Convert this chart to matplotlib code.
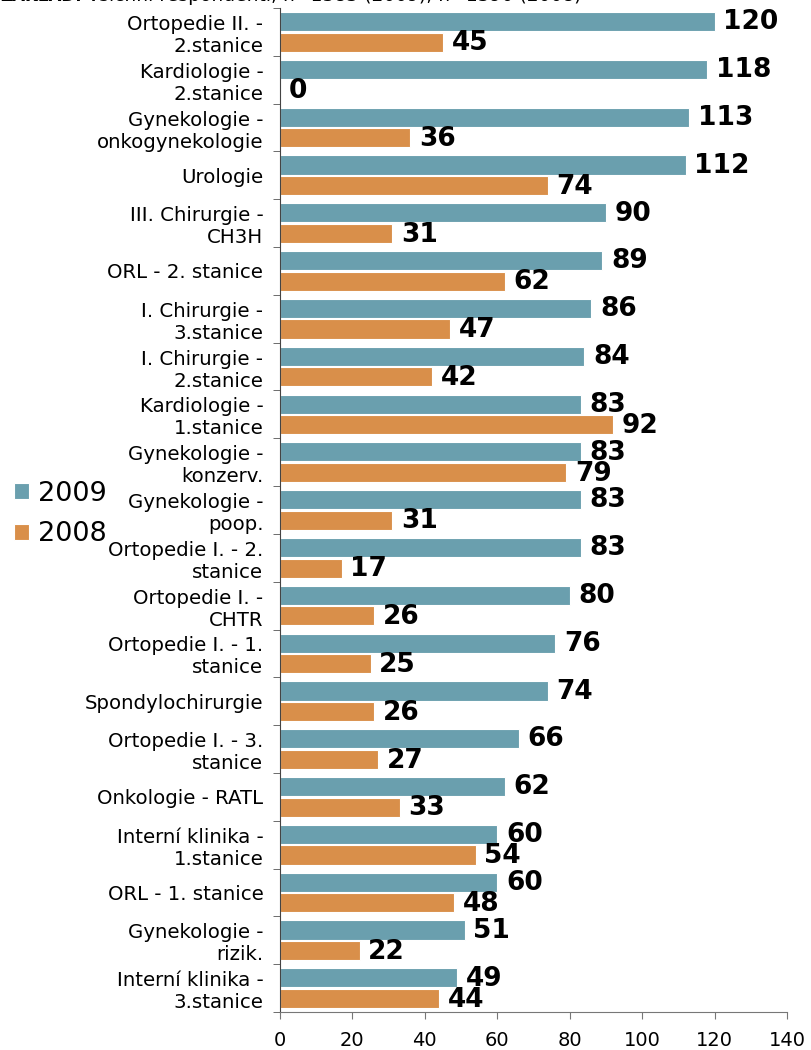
import matplotlib.pyplot as plt
import numpy as np

oddeleni = [
    "Ortopedie II. -\n2.stanice", "Kardiologie -\n2.stanice", "Gynekologie -\nonkogynekologie",
    "Urologie", "III. Chirurgie -\nCH3H", "ORL - 2. stanice", "I. Chirurgie -\n3.stanice",
    "I. Chirurgie -\n2.stanice", "Kardiologie -\n1.stanice", "Gynekologie -\nkonzerv.",
    "Gynekologie -\npoop.", "Ortopedie I. - 2.\nstanice", "Ortopedie I. -\nCHTR",
    "Ortopedie I. - 1.\nstanice", "Spondylochirurgie", "Ortopedie I. - 3.\nstanice",
    "Onkologie - RATL", "Interní klinika -\n1.stanice", "ORL - 1. stanice",
    "Gynekologie -\nrizik.", "Interní klinika -\n3.stanice",
]
hodnoty_2009 = [120, 118, 113, 112, 90, 89, 86, 84, 83, 83, 83, 83, 80, 76, 74, 66, 62, 60, 60, 51, 49]
hodnoty_2008 = [45, 0, 36, 74, 31, 62, 47, 42, 92, 79, 31, 17, 26, 25, 26, 27, 33, 54, 48, 22, 44]
roky = ["2009", "2008"]
barvy = ["#6A9FAE", "#D98F4A"]

fig = plt.figure(figsize=(8.12, 10.5), dpi=100)
ax = fig.add_axes([280 / 812, 38 / 1050, 507 / 812, 1004 / 1050])

y = np.arange(len(oddeleni))
h = 0.4
b1 = ax.barh(y - 0.215, hodnoty_2009, height=h, color=barvy[0], edgecolor="white", linewidth=0.8, label=roky[0])
b2 = ax.barh(y + 0.215, hodnoty_2008, height=h, color=barvy[1], edgecolor="white", linewidth=0.8, label=roky[1])

for i in range(len(oddeleni)):
    ax.text(hodnoty_2009[i] + 2.4, y[i] - 0.2, str(hodnoty_2009[i]), fontsize=19,
            fontweight="bold", va="center", ha="left")
    ax.text(hodnoty_2008[i] + 2.4, y[i] + 0.24, str(hodnoty_2008[i]), fontsize=19,
            fontweight="bold", va="center", ha="left")

ax.set_xlim(0, 140)
ax.set_ylim(len(oddeleni) - 0.5, -0.5)
ax.set_xticks(range(0, 141, 20))
ax.tick_params(axis="x", labelsize=14, length=5, color="#777777", pad=9)
ax.set_yticks(y)
ax.set_yticklabels(oddeleni, fontsize=14.2, linespacing=1.2)
ax.tick_params(axis="y", length=0, pad=12)
ax.set_yticks(np.arange(-0.5, len(oddeleni), 1), minor=True)
ax.tick_params(axis="y", which="minor", length=5, color="#555555")
ax.spines["top"].set_visible(False)
ax.spines["right"].set_visible(False)
ax.spines["left"].set_color("#444444")
ax.spines["bottom"].set_color("#777777")

fig.legend(handles=[b1, b2], loc="center left", bbox_to_anchor=(14 / 812, 1 - 514 / 1050),
           frameon=False, fontsize=19.5, handlelength=0.55, handleheight=0.55,
           handletextpad=0.35, labelspacing=0.55, borderpad=0, borderaxespad=0)

fig.text(0.0, 1 - 1 / 1050, "ZÁKLAD:", fontsize=12, fontweight="bold", va="baseline", ha="left")
fig.text(88 / 812, 1 - 1 / 1050, "všichni respondenti, n=1383 (2009), n=1390 (2008)",
         fontsize=13.5, va="baseline", ha="left")

fig.savefig("out.png", dpi=100)
